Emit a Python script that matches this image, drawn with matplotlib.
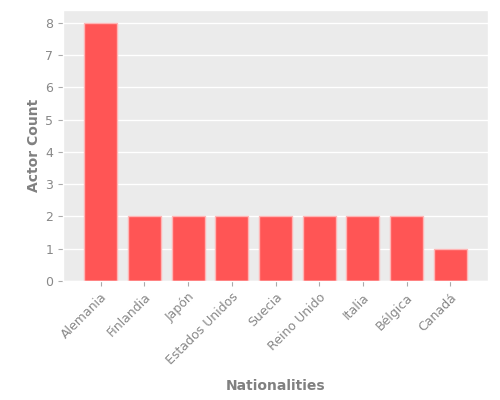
import matplotlib
matplotlib.use("Agg")
import matplotlib.pyplot as plt

plt.style.use("ggplot")

countries = ["Alemania", "Finlandia", "Japón", "Estados Unidos", "Suecia",
             "Reino Unido", "Italia", "Bélgica", "Canadá"]
counts = [8, 2, 2, 2, 2, 2, 2, 2, 1]

fig = plt.figure(figsize=(5, 4), dpi=100)
ax = fig.add_axes([0.126, 0.2975, 0.85, 0.6775])
ax.set_facecolor("#EBEBEB")
x = list(range(len(countries)))
ax.bar(x, counts, width=0.75, color="#FF5555", edgecolor="#FFB5B5", linewidth=1)
ax.set_xlim(-0.865, len(countries) - 1 + 0.865)
ax.set_ylim(0, 8.4)
ax.set_xticks(x)
ax.set_xticklabels(countries, rotation=45, ha="right", va="top", rotation_mode="anchor")
ax.tick_params(axis="both", labelsize=9, colors="#AAAAAA", labelcolor="#888888")
ax.set_xlabel("Nationalities", fontsize=10, fontweight="bold", color="#808080", labelpad=8)
ax.set_ylabel("Actor Count", fontsize=10, fontweight="bold", color="#808080", labelpad=3)
ax.grid(axis="x", visible=False)
ax.grid(axis="y", color="white", linewidth=1)
fig.savefig("out.png", dpi=100)
